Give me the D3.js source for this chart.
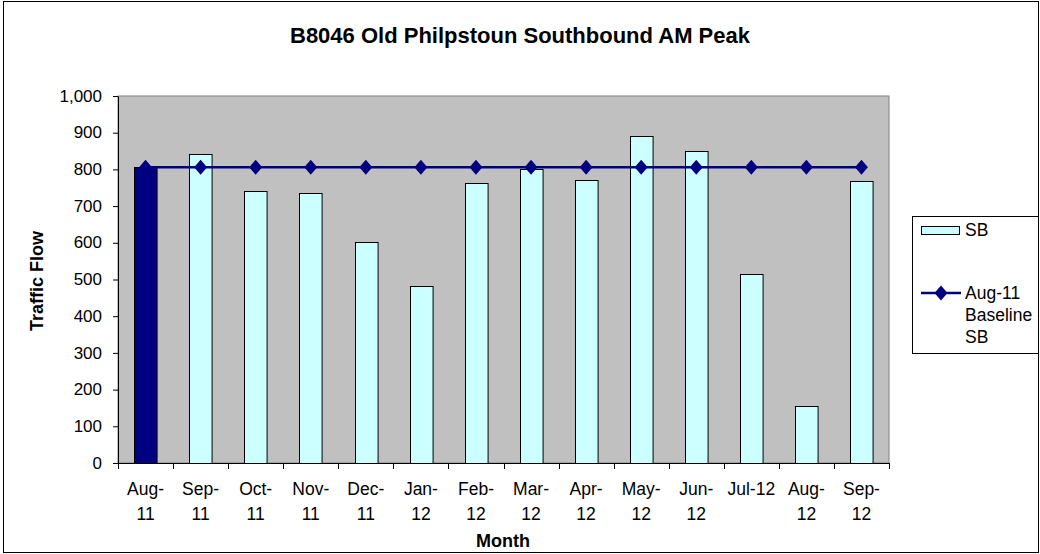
<!DOCTYPE html>
<html><head><meta charset="utf-8">
<script src="https://cdn.jsdelivr.net/npm/d3@7"></script>
<style>body{margin:0;background:#fff}svg{display:block}text{font-family:"Liberation Sans",Arial,sans-serif}</style>
</head><body>
<script>
const months = [["Aug-","11"],["Sep-","11"],["Oct-","11"],["Nov-","11"],["Dec-","11"],["Jan-","12"],["Feb-","12"],["Mar-","12"],["Apr-","12"],["May-","12"],["Jun-","12"],["Jul-12"],["Aug-","12"],["Sep-","12"]];
const sbValues = [806, 841, 740, 737, 601, 481, 764, 801, 772, 891, 849, 516, 154, 768];
const baselineValues = [806, 806, 806, 806, 806, 806, 806, 806, 806, 806, 806, 806, 806, 806];
const yTicks = [0,100,200,300,400,500,600,700,800,900,1000];
const title = "B8046 Old Philpstoun Southbound AM Peak";

const W=1040,H=554;
const svg=d3.select("body").append("svg").attr("width",W).attr("height",H);
svg.append("rect").attr("x",3.5).attr("y",1.5).attr("width",W-5).attr("height",H-3).attr("fill","#fff").attr("stroke","#000").attr("stroke-width",1);

const L=118,R=889,T=96,B=463;
const idx=months.map((d,i)=>i);
const x=d3.scaleBand().domain(idx).range([L,R]).paddingInner(0.59).paddingOuter(0.295);
const xb=d3.scaleBand().domain(idx).range([L,R]);
const y=d3.scaleLinear().domain([0,1000]).range([B,T]);

svg.append("rect").attr("x",L).attr("y",T).attr("width",R-L).attr("height",B-T).attr("fill","#C0C0C0").attr("stroke","#808080").attr("stroke-width",1);

svg.append("g").selectAll("rect").data(sbValues).join("rect")
 .attr("x",(d,i)=>Math.round(x(i))+0.5).attr("y",d=>Math.round(y(d))+0.5)
 .attr("width",x.bandwidth()).attr("height",d=>B-Math.round(y(d)))
 .attr("fill",(d,i)=>i===0?"#000080":"#CCFFFF").attr("stroke","#000").attr("stroke-width",1);

const line=d3.line().x((d,i)=>xb(i)+xb.bandwidth()/2).y(d=>y(d));
svg.append("path").datum(baselineValues).attr("d",line).attr("fill","none").attr("stroke","#000080").attr("stroke-width",2.5);
const diamond=d3.symbol().type(d3.symbolDiamond).size(65);
svg.append("g").selectAll("path").data(baselineValues).join("path")
 .attr("transform",(d,i)=>`translate(${xb(i)+xb.bandwidth()/2},${y(d)}) scale(1.5,1)`)
 .attr("d",diamond).attr("fill","#000080");

// Y axis
const ya=svg.append("g").attr("transform",`translate(${L},0)`).call(d3.axisLeft(y).tickValues(yTicks).tickSize(5).tickSizeOuter(0).tickFormat(d3.format(",")));
ya.select(".domain").attr("stroke","#000");
ya.selectAll("line").attr("stroke","#000");
ya.selectAll("text").attr("font-size",17).attr("fill","#000").attr("x",-16).attr("dy","0.3em");

// X axis
const xa=svg.append("g").attr("transform",`translate(0,${B})`);
xa.append("line").attr("x1",L).attr("x2",R).attr("y1",0.5).attr("y2",0.5).attr("stroke","#000");
const bounds=idx.map(i=>xb(i)).concat([R]);
xa.selectAll("line.t").data(bounds).join("line").attr("class","t")
 .attr("x1",d=>Math.round(d)+0.5).attr("x2",d=>Math.round(d)+0.5).attr("y1",0).attr("y2",6).attr("stroke","#000");
const lbl=xa.selectAll("text.l").data(months).join("text").attr("class","l")
 .attr("text-anchor","middle").attr("font-size",17.5).attr("fill","#000")
 .attr("transform",(d,i)=>`translate(${xb(i)+xb.bandwidth()/2},0)`);
lbl.each(function(d){
  const t=d3.select(this);
  d.forEach((s,k)=>t.append("tspan").attr("x",0).attr("y",32+k*25).text(s));
});

svg.append("text").attr("x",520).attr("y",43).attr("text-anchor","middle").attr("font-size",22).attr("font-weight","bold").text(title);
svg.append("text").attr("x",503).attr("y",547).attr("text-anchor","middle").attr("font-size",18).attr("font-weight","bold").text("Month");
svg.append("text").attr("transform",`translate(43,281) rotate(-90)`).attr("text-anchor","middle").attr("font-size",18).attr("font-weight","bold").text("Traffic Flow");

// Legend
const lg=svg.append("g");
lg.append("rect").attr("x",912.5).attr("y",216.5).attr("width",126).attr("height",137).attr("fill","#fff").attr("stroke","#000");
lg.append("rect").attr("x",921.5).attr("y",226.5).attr("width",38).attr("height",8).attr("fill","#CCFFFF").attr("stroke","#000");
lg.append("text").attr("x",965).attr("y",236).attr("font-size",17.5).text("SB");
lg.append("line").attr("x1",921).attr("x2",961).attr("y1",293).attr("y2",293).attr("stroke","#000080").attr("stroke-width",2.5);
lg.append("path").attr("d",diamond).attr("transform","translate(941,293) scale(1.5,1)").attr("fill","#000080");
["Aug-11","Baseline","SB"].forEach((s,k)=>lg.append("text").attr("x",965).attr("y",299+k*22).attr("font-size",17.5).text(s));
</script>
</body></html>
